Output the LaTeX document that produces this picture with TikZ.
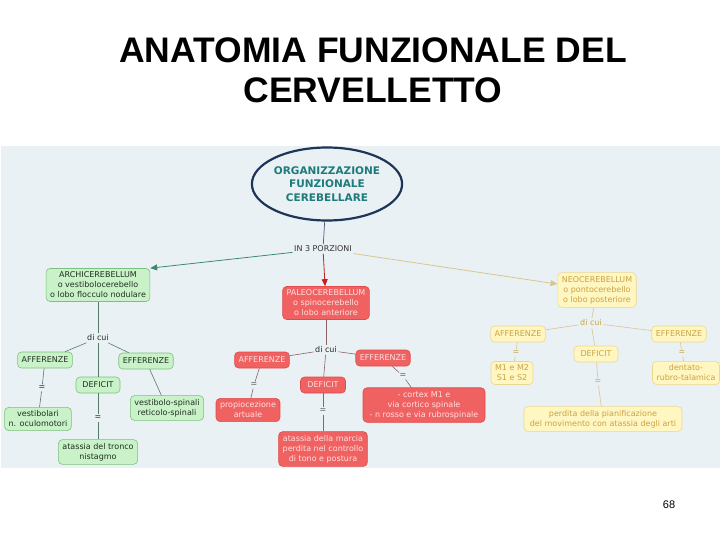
\documentclass[tikz,border=0pt]{standalone}
\usepackage{fontspec}
\setmainfont{Liberation Sans}
\newfontfamily\mapfam{DejaVu Sans}
\usetikzlibrary{arrows.meta,shapes.geometric}

\definecolor{panel}{HTML}{EAF1F4}
\definecolor{gfill}{HTML}{C9F2C9}
\definecolor{gline}{HTML}{7DBF7D}
\definecolor{gtext}{HTML}{1F2F1F}
\definecolor{glink}{HTML}{557A66}
\definecolor{garrow}{HTML}{3E8A6E}
\definecolor{rfill}{HTML}{F06262}
\definecolor{rline}{HTML}{E04A4A}
\definecolor{rtext}{HTML}{FFE0E0}
\definecolor{rlink}{HTML}{8C6464}
\definecolor{rarrow}{HTML}{C81E1E}
\definecolor{yfill}{HTML}{FFF6C2}
\definecolor{yline}{HTML}{EAD88E}
\definecolor{ytext}{HTML}{C9A443}
\definecolor{ylink}{HTML}{D8C690}
\definecolor{orgline}{HTML}{1D3557}
\definecolor{orgtext}{HTML}{1E7B7B}

\begin{document}
\begin{tikzpicture}[x=1pt,y=-1pt,
        box/.style={rectangle,rounded corners=4pt,align=center,inner xsep=4pt,inner ysep=3.5pt,
            minimum height=16pt,line width=0.6pt,font=\mapfam\fontsize{8}{10}\selectfont},
        gbox/.style={box,draw=gline,fill=gfill,text=gtext},
        rbox/.style={box,draw=rline,fill=rfill,text=rtext},
        ybox/.style={box,draw=yline,fill=yfill,text=ytext},
        lab/.style={inner sep=1.5pt,font=\mapfam\fontsize{8}{10}\selectfont},
        gcon/.style={draw=glink,line width=0.6pt},
        rcon/.style={draw=rlink,line width=0.6pt},
        ycon/.style={draw=ylink,line width=0.6pt}]

    \useasboundingbox (0,0) rectangle (720,540);
    \fill[panel] (1,146) rectangle (720,468);

    \node[align=center,font=\bfseries\fontsize{35.5}{40}\selectfont] (title) at (373,70) {ANATOMIA FUNZIONALE DEL\\CERVELLETTO};
    \node[font=\fontsize{11}{13}\selectfont] (page) at (669,505) {68};

    \node[ellipse,draw=orgline,line width=2.2pt,fill=panel,minimum width=140pt,minimum height=73pt,inner sep=0pt,
        align=center,text=orgtext,font=\mapfam\bfseries\fontsize{10.5}{13.5}\selectfont] (org) at (327,184)
        {ORGANIZZAZIONE\\FUNZIONALE\\CEREBELLARE};
    \node[lab,text=black!80] (p3) at (323,249) {IN 3 PORZIONI};

    % archicerebellum
    \node[gbox] (archi) at (98,285) {ARCHICEREBELLUM\\o vestibolocerebello\\o lobo flocculo nodulare};
    \node[lab,text=gtext] (gdc) at (98,338) {di cui};
    \node[gbox] (gaff) at (45,360) {AFFERENZE};
    \node[gbox] (geff) at (146,361) {EFFERENZE};
    \node[gbox,minimum width=44pt] (gdef) at (98,385) {DEFICIT};
    \node[lab,text=gtext] (geqa) at (42,388) {=};
    \node[gbox] (gvest) at (38,419) {vestibolari\\n. oculomotori};
    \node[gbox] (gvs) at (167,408) {vestibolo-spinali\\reticolo-spinali};
    \node[lab,text=gtext] (geqb) at (98,418) {=};
    \node[gbox] (gatax) at (98,452) {atassia del tronco\\nistagmo};

    % paleocerebellum
    \node[rbox] (paleo) at (326,303) {PALEOCEREBELLUM\\o spinocerebello\\o lobo anteriore};
    \node[lab,text=black!85] (rdc) at (326,350) {di cui};
    \node[rbox] (raff) at (262,360) {AFFERENZE};
    \node[rbox] (reff) at (383,358) {EFFERENZE};
    \node[rbox,minimum width=45pt] (rdef) at (323,385) {DEFICIT};
    \node[lab,text=black!65] (reqa) at (254,385) {=};
    \node[rbox] (rprop) at (248,410) {propiocezione\\artuale};
    \node[lab,text=black!65] (reqb) at (403,376) {=};
    \node[rbox,minimum width=122pt] (rcort) at (424,405) {- cortex M1 e\\via cortico spinale\\- n rosso e via rubrospinale};
    \node[lab,text=black!65] (reqc) at (323,411) {=};
    \node[rbox] (ratax) at (323,449) {atassia della marcia\\perdita nel controllo\\di tono e postura};

    % neocerebellum
    \node[ybox] (neo) at (597,290) {NEOCEREBELLUM\\o pontocerebello\\o lobo posteriore};
    \node[lab,text=ytext] (ydc) at (591,323) {di cui};
    \node[ybox] (yaff) at (518,334) {AFFERENZE};
    \node[ybox] (yeff) at (679,334) {EFFERENZE};
    \node[ybox,minimum width=44pt] (ydef) at (596,354) {DEFICIT};
    \node[lab,text=ytext] (yeqa) at (516,353) {=};
    \node[ybox] (ym) at (512,373) {M1 e M2\\S1 e S2};
    \node[lab,text=ytext] (yeqb) at (682,353) {=};
    \node[ybox] (yden) at (686,373) {dentato-\\rubro-talamica};
    \node[lab,text=ytext] (yeqc) at (598,382) {=};
    \node[ybox,minimum width=158pt] (yperd) at (603,419) {perdita della pianificazione\\del movimento con atassia degli arti};

    \draw[draw=orgline!80,line width=0.7pt] (org) -- (p3);
    \draw[draw=garrow,line width=0.8pt,-{Triangle[length=7pt,width=6pt]}] (p3) -- (archi.north east);
    \draw[draw=rarrow,line width=0.8pt,-{Triangle[length=7pt,width=6pt]}] (p3) -- (paleo);
    \draw[draw=ylink,line width=0.8pt,-{Triangle[length=7pt,width=6pt]}] (p3) -- (neo);

    \draw[gcon] (archi) -- (gdc);
    \draw[gcon] (gdc) -- (gaff);
    \draw[gcon] (gdc) -- (geff);
    \draw[gcon] (gdc) -- (gdef);
    \draw[gcon] (gaff) -- (geqa) -- (gvest);
    \draw[gcon] (geff) -- (gvs);
    \draw[gcon] (gdef) -- (geqb) -- (gatax);

    \draw[rcon] (paleo) -- (rdc);
    \draw[rcon] (rdc) -- (raff);
    \draw[rcon] (rdc) -- (reff);
    \draw[rcon] (rdc) -- (rdef);
    \draw[rcon] (raff) -- (reqa) -- (rprop);
    \draw[rcon] (reff) -- (reqb) -- (rcort);
    \draw[rcon] (rdef) -- (reqc) -- (ratax);

    \draw[ycon] (neo) -- (ydc);
    \draw[ycon] (ydc) -- (yaff);
    \draw[ycon] (ydc) -- (yeff);
    \draw[ycon] (ydc) -- (ydef);
    \draw[ycon] (yaff) -- (yeqa) -- (ym);
    \draw[ycon] (yeff) -- (yeqb) -- (yden);
    \draw[ycon] (ydef) -- (yeqc) -- (yperd);
\end{tikzpicture}
\end{document}
